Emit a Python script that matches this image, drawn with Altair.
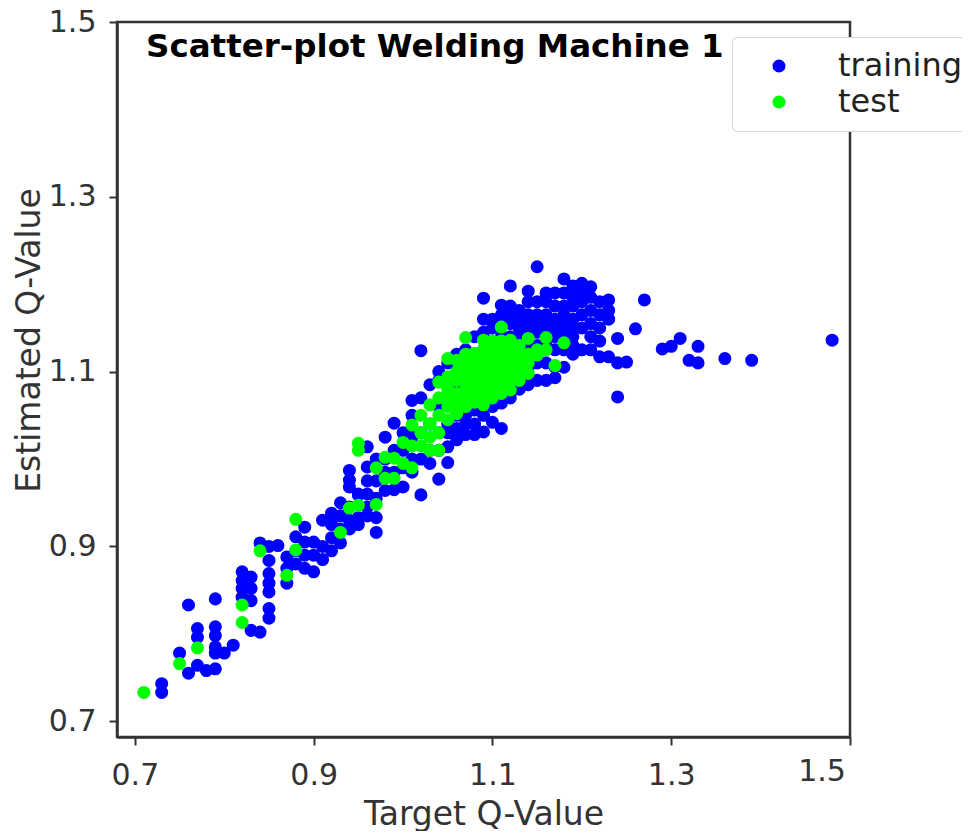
import altair as alt
import pandas as pd

title_text = "Scatter-plot Welding Machine 1"
x_ticks = [0.7, 0.9, 1.1, 1.3, 1.5]
y_ticks = [0.7, 0.9, 1.1, 1.3, 1.5]

# Training points, grouped by target value (the targets sit on a 0.01 grid)
training_low = {
    0.73: [.733, .743], 0.75: [.778], 0.76: [.755, .833], 0.77: [.764, .796, .806],
    0.78: [.758], 0.79: [.76, .778, .785, .798, .808, .84], 0.80: [.778], 0.81: [.787],
    0.82: [.842, .852, .861, .871], 0.83: [.804, .838, .852, .865], 0.84: [.802, .904],
    0.85: [.818, .829, .848, .858, .869, .884, .9], 0.86: [.901], 0.87: [.858, .875, .888],
    0.88: [.88, .895, .911], 0.89: [.875, .89, .905, .922], 0.90: [.871, .89, .905],
}
training_mid = {
    0.91: [.885, .9, .93], 0.92: [.895, .91, .925, .93, .938], 0.93: [.904, .92, .935, .95],
    0.94: [.92, .93, .945, .968, .976, .987], 0.95: [.925, .933, .96, .959],
    0.96: [.935, .945, .96, .975, .991, 1.014], 0.97: [.916, .933, .955, .975, 1.0],
    0.98: [.964, .985, 1.0, 1.025], 0.99: [.965, .985, 1.01, 1.041],
    1.00: [.968, .99, 1.01, 1.03], 1.01: [.985, 1.0, 1.025, 1.05, 1.067],
    1.02: [.959, 1.0, 1.03, 1.07, 1.124], 1.03: [.995, 1.01, 1.04, 1.085],
    1.04: [.977, 1.01, 1.03, 1.06, 1.09, 1.1],
    1.05: [.996, 1.014, 1.03, 1.04, 1.07, 1.09, 1.11],
}
training_high = {
    1.06: [1.022, 1.035, 1.05, 1.065, 1.08, 1.10, 1.12],
    1.07: [1.028, 1.04, 1.05, 1.06, 1.07, 1.1, 1.125],
    1.08: [1.028, 1.04, 1.056, 1.08, 1.1, 1.12, 1.14],
    1.09: [1.031, 1.05, 1.075, 1.1, 1.125, 1.145, 1.16, 1.184],
    1.10: [1.042, 1.06, 1.08, 1.11, 1.135, 1.15, 1.16],
    1.11: [1.035, 1.064, 1.085, 1.12, 1.13, 1.14, 1.155, 1.165, 1.176],
    1.12: [1.07, 1.09, 1.12, 1.14, 1.155, 1.165, 1.175, 1.198],
    1.13: [1.08, 1.1, 1.12, 1.14, 1.15, 1.16, 1.17],
    1.14: [1.085, 1.105, 1.13, 1.145, 1.155, 1.165, 1.18, 1.192],
    1.15: [1.09, 1.11, 1.13, 1.145, 1.155, 1.165, 1.18, 1.22],
    1.16: [1.09, 1.11, 1.13, 1.145, 1.155, 1.165, 1.18, 1.19],
    1.17: [1.093, 1.105, 1.125, 1.14, 1.15, 1.16, 1.175, 1.19],
    1.18: [1.105, 1.125, 1.135, 1.145, 1.155, 1.165, 1.175, 1.19, 1.206],
    1.19: [1.12, 1.13, 1.14, 1.15, 1.16, 1.175, 1.185, 1.198],
    1.20: [1.125, 1.15, 1.165, 1.18, 1.19, 1.201],
    1.21: [1.125, 1.14, 1.155, 1.17, 1.185, 1.197],
    1.22: [1.117, 1.135, 1.15, 1.165, 1.18],
    1.23: [1.117, 1.16, 1.17, 1.182], 1.24: [1.071, 1.11, 1.138], 1.25: [1.111],
    1.26: [1.149], 1.27: [1.182], 1.29: [1.126], 1.30: [1.129], 1.31: [1.138],
    1.32: [1.113], 1.33: [1.11, 1.129], 1.36: [1.115], 1.39: [1.113], 1.48: [1.136],
}
test_low = {
    0.71: [.733], 0.75: [.766], 0.77: [.784], 0.82: [.813, .833], 0.84: [.895],
    0.87: [.867], 0.88: [.896, .931], 0.93: [.916], 0.94: [.944],
    0.95: [.947, 1.01, 1.018], 0.97: [.948, .99], 0.98: [.978, 1.002], 0.99: [.978, 1.001],
}
test_high = {
    1.00: [.995, 1.019], 1.01: [.99, 1.015, 1.039], 1.02: [1.015, 1.03, 1.05],
    1.03: [1.01, 1.025, 1.04, 1.062], 1.04: [1.01, 1.03, 1.05, 1.07, 1.088],
    1.05: [1.045, 1.06, 1.072, 1.08, 1.094, 1.115], 1.06: [1.052, 1.064, 1.075, 1.09, 1.1, 1.113],
    1.07: [1.06, 1.07, 1.08, 1.09, 1.1, 1.11, 1.12, 1.139],
    1.08: [1.065, 1.075, 1.085, 1.093, 1.1, 1.11, 1.121],
    1.09: [1.062, 1.07, 1.08, 1.088, 1.095, 1.103, 1.11, 1.118, 1.125, 1.136],
    1.10: [1.07, 1.08, 1.09, 1.098, 1.105, 1.112, 1.12, 1.128, 1.135],
    1.11: [1.075, 1.085, 1.095, 1.103, 1.11, 1.118, 1.125, 1.135, 1.151],
    1.12: [1.079, 1.09, 1.1, 1.108, 1.115, 1.125, 1.136],
    1.13: [1.09, 1.098, 1.105, 1.112, 1.12, 1.13], 1.14: [1.098, 1.11, 1.12, 1.138],
    1.15: [1.119, 1.125], 1.16: [1.125, 1.139], 1.17: [1.107], 1.18: [1.133],
}

rows = []
for name, groups in [("training", [training_low, training_mid, training_high]),
                     ("test", [test_low, test_high])]:
    for group in groups:
        for tx, ys in group.items():
            for ey in ys:
                rows.append({"target": tx, "estimated": ey, "set": name})
df = pd.DataFrame(rows)

FONT = "DejaVu Sans"
INK = "#333333"

points = alt.Chart(df).mark_circle(size=170, opacity=1).encode(
    x=alt.X("target:Q", scale=alt.Scale(domain=[0.68, 1.5], nice=False, zero=False),
            axis=alt.Axis(title="Target Q-Value", values=x_ticks, format=".1f", grid=False,
                          labelExpr="datum.value > 1.45 ? '' : datum.label",
                          labelPadding=15, titlePadding=8, tickSize=8)),
    y=alt.Y("estimated:Q", scale=alt.Scale(domain=[0.682, 1.5], nice=False, zero=False),
            axis=alt.Axis(title="Estimated Q-Value", values=y_ticks, format=".1f", grid=False,
                          labelPadding=13, titlePadding=2, tickSize=8, titleY=318)),
    color=alt.Color("set:N",
                    scale=alt.Scale(domain=["training", "test"], range=["#0000ff", "#00ff00"]),
                    legend=alt.Legend(title=None, orient="none", legendX=615, legendY=15,
                                      padding=13, symbolOffset=18, labelOffset=43,
                                      rowPadding=4, symbolSize=170, symbolType="circle",
                                      labelFontSize=32, labelFont=FONT, labelColor="#222222",
                                      fillColor="white", strokeColor="#d4d4d4",
                                      cornerRadius=5, symbolStrokeWidth=0)),
    order=alt.Order("order:Q"),
).transform_calculate(order="datum.set === 'training' ? 0 : 1")

last_label = alt.Chart(pd.DataFrame({"label": ["1.5"]})).mark_text(
    font=FONT, fontSize=30, color=INK, dx=-28, baseline="middle"
).encode(x=alt.datum(1.5, scale=alt.Scale(domain=[0.68, 1.5], nice=False, zero=False)),
         y=alt.value(750), text="label:N")

chart = (points + last_label).properties(
    width=733, height=715,
    title=alt.TitleParams(title_text, anchor="start", frame="group", font=FONT, fontSize=32.5,
                          fontWeight="bold", color="black", dx=29, dy=60),
    autosize=alt.AutoSizeParams(type="none"),
    padding={"left": 109, "top": 14, "right": 112, "bottom": 94},
).configure_view(stroke=INK, strokeWidth=2.5).configure_axis(
    labelFont=FONT, titleFont=FONT, labelFontSize=30, titleFontSize=33,
    labelColor=INK, titleColor=INK, titleFontWeight="normal",
    domainColor=INK, tickColor=INK, domainWidth=2.5, tickWidth=2,
)

chart.save("out.html", embed_options={"renderer": "svg", "actions": False})
